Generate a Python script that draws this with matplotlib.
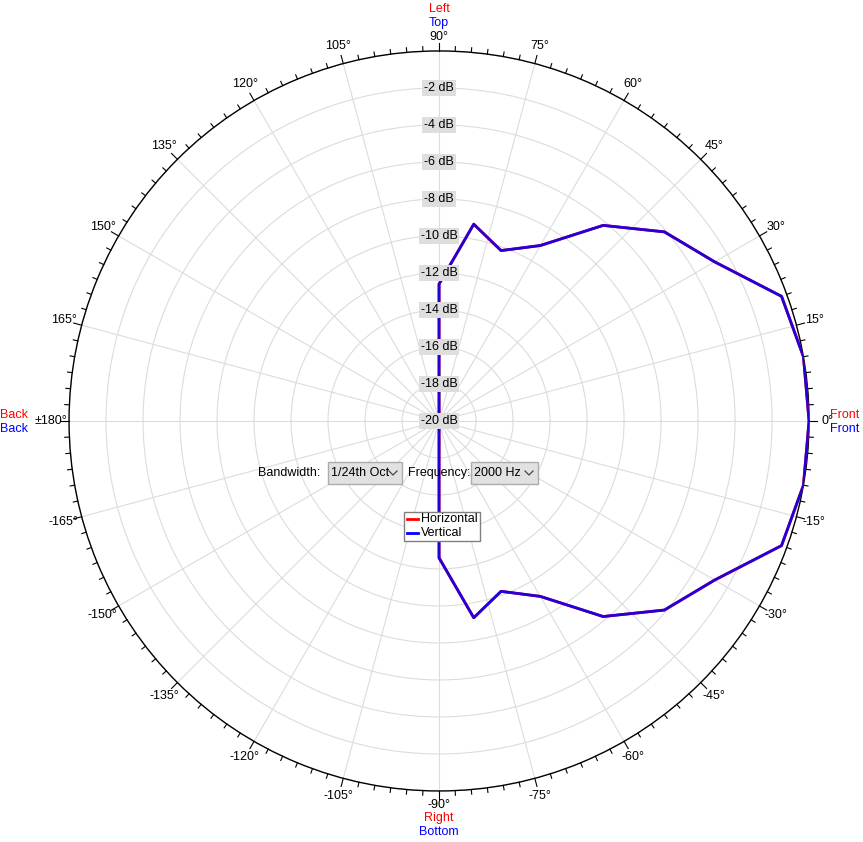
import numpy as np
import matplotlib
matplotlib.use("Agg")
import matplotlib.pyplot as plt
from matplotlib.patches import Rectangle

angles_deg = [-180,-170,-160,-150,-140,-130,-120,-110,-100,-90,-80,-70,-60,-50,-40,-30,-20,-10,
              0,10,20,30,40,50,60,70,80,90,100,110,120,130,140,150,160,170,180]
half = [0.0,0.0,-0.3,-2.8,-4.1,-6.2,-9.05,-10.2,-9.2,-12.6,-20,-20,-20,-20,-20,-20,-20,-20,-20]
vertical_db = half[::-1][:-1] + half  # -180..180
horizontal_db = list(vertical_db)
db_labels = [-2,-4,-6,-8,-10,-12,-14,-16,-18,-20]

plt.rcParams['font.family'] = ['Liberation Sans', 'DejaVu Sans']
fig = plt.figure(figsize=(8.63, 8.42), dpi=100)
ax = fig.add_axes([0.0800, 0.0606, 0.8575, 0.8789], projection='polar')
ax.set_ylim(0, 20)
ax.set_yticks(np.arange(2, 20.1, 2))
ax.set_yticklabels([])
ax.set_xticks(np.deg2rad(np.arange(0, 360, 15)))
ax.set_xticklabels([])
ax.grid(True, color='#dcdcdc', lw=0.8)
ax.spines['polar'].set_color('black')
ax.spines['polar'].set_linewidth(1.0)
ax.tick_params(length=0)

th = np.deg2rad(angles_deg)
ax.plot(th, np.array(horizontal_db) + 20, color='red', lw=2, zorder=3)
ax.plot(th, np.array(vertical_db) + 20, color='#2200dd', lw=2, zorder=4)

# outer ticks
for a in np.arange(0, 360, 2.5):
    L = 0.45 if a % 15 == 0 else 0.25
    ax.plot([np.deg2rad(a)] * 2, [20, 20 + L], color='black', lw=0.8, clip_on=False)

# angle labels
for a in range(-165, 181, 15):
    if a == 90 or a == -90:
        continue
    lab = '±180°' if a == 180 else f'{a}°'
    ax.text(np.deg2rad(a), 21.0, lab, ha='center', va='center', fontsize=9, clip_on=False)
ax.text(np.deg2rad(90), 20.75, '90°', ha='center', va='center', fontsize=9, clip_on=False)
ax.text(np.deg2rad(-90), 20.75, '-90°', ha='center', va='center', fontsize=9, clip_on=False)

# dB labels
for d in db_labels:
    ax.text(np.deg2rad(90), d + 20, f'{d} dB', ha='center', va='center', fontsize=9,
            bbox=dict(boxstyle='square,pad=0.15', fc='#dedede', ec='none'), zorder=5)

def px(x, y):
    return x/863, 1-y/842

fs = 9
fig.text(*px(439, 9), 'Left', color='red', ha='center', va='center', fontsize=fs)
fig.text(*px(439, 23), 'Top', color='blue', ha='center', va='center', fontsize=fs)
fig.text(*px(439, 818), 'Right', color='red', ha='center', va='center', fontsize=fs)
fig.text(*px(439, 832), 'Bottom', color='blue', ha='center', va='center', fontsize=fs)
fig.text(*px(14, 415), 'Back', color='red', ha='center', va='center', fontsize=fs)
fig.text(*px(14, 429), 'Back', color='blue', ha='center', va='center', fontsize=fs)
fig.text(*px(845, 415), 'Front', color='red', ha='center', va='center', fontsize=fs)
fig.text(*px(845, 429), 'Front', color='blue', ha='center', va='center', fontsize=fs)

# controls
fig.text(*px(258, 473), 'Bandwidth:', ha='left', va='center', fontsize=fs)
for (x0, w, txt) in [(328, 74, '1/24th Oct'), (471, 67, '2000 Hz')]:
    fx, fy = px(x0, 484)
    fig.patches.append(Rectangle((fx, fy), w/863, 22/842, transform=fig.transFigure,
                                 fc='#e1e1e1', ec='#adadad', lw=1))
    fig.text(*px(x0 + 3, 473), txt, ha='left', va='center', fontsize=fs)
    cx = x0 + w - 9
    xs = [px(cx - 4, 471)[0], px(cx, 475)[0], px(cx + 4, 471)[0]]
    ys = [px(0, 471)[1], px(0, 475)[1], px(0, 471)[1]]
    fig.lines.append(plt.Line2D(xs, ys, color='#444444', lw=0.9, transform=fig.transFigure))
fig.text(*px(408, 473), 'Frequency:', ha='left', va='center', fontsize=fs)

# legend
fx, fy = px(404, 541)
fig.patches.append(Rectangle((fx, fy), 76/863, 29/842, transform=fig.transFigure,
                             fc='white', ec='#808080', lw=1, zorder=10))
for yy, c, t in [(519, 'red', 'Horizontal'), (533, 'blue', 'Vertical')]:
    fig.lines.append(plt.Line2D([407/863, 418/863], [1-yy/842]*2, color=c, lw=2,
                                transform=fig.transFigure, zorder=11))
    fig.text(*px(421, yy), t, ha='left', va='center', fontsize=fs, zorder=11)

fig.savefig('out.png', dpi=100, facecolor='white')
